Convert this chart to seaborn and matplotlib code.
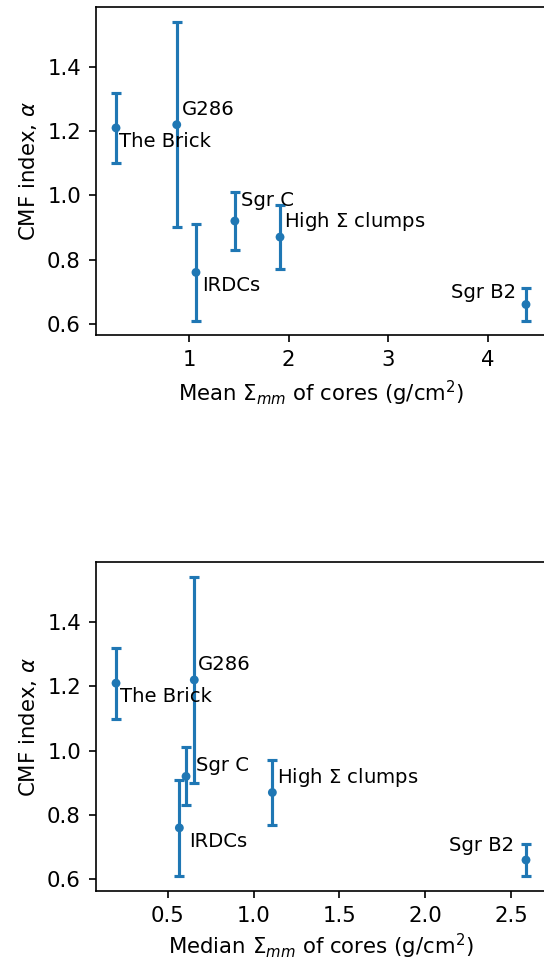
import matplotlib
matplotlib.use("Agg")
import matplotlib.pyplot as plt
import seaborn as sns
import pandas as pd

# ---- data ----
regions = ["The Brick", "G286", "IRDCs", "Sgr C", r"High $\Sigma$ clumps", "Sgr B2"]
mean_sigma = [0.268, 0.877, 1.07, 1.46, 1.913, 4.38]
median_sigma = [0.198, 0.654, 0.567, 0.606, 1.109, 2.587]
alpha = [1.21, 1.22, 0.76, 0.92, 0.87, 0.66]
alpha_err = [0.11, 0.32, 0.15, 0.09, 0.10, 0.05]

df = pd.DataFrame({"region": regions, "mean": mean_sigma, "median": median_sigma,
                   "alpha": alpha, "err": alpha_err})

# label offsets in pixels (dx, dy, ha) for each panel, same order as regions
top_offsets = [(3, -19, "left"), (5, 10, "left"), (6, -19, "left"),
               (6, 15.5, "left"), (4, 10.5, "left"), (-10, 6.5, "right")]
bot_offsets = [(4, -19, "left"), (4, 9.5, "left"), (10, -19.5, "left"),
               (10, 5.5, "left"), (4.5, 9.5, "left"), (-12, 9.3, "right")]

sns.set_theme(style="ticks", rc={
    "axes.edgecolor": "black", "axes.labelcolor": "black",
    "xtick.color": "black", "ytick.color": "black", "text.color": "black",
    "axes.linewidth": 0.8, "xtick.major.width": 0.8, "ytick.major.width": 0.8,
    "xtick.major.size": 3.5, "ytick.major.size": 3.5,
    "font.size": 10, "axes.labelsize": 10.2, "xtick.labelsize": 10.2,
    "ytick.labelsize": 10.2,
})
plt.rcParams["font.family"] = ["DejaVu Sans"]
plt.rcParams["mathtext.fontset"] = "dejavusans"

DPI = 150
fig = plt.figure(figsize=(544 / DPI, 961 / DPI), dpi=DPI)
ax1 = fig.add_axes([0.1756, 0.6509, 0.8290, 0.3418])
ax2 = fig.add_axes([0.1756, 0.0728, 0.8290, 0.3423])

color = "#1f77b4"

def panel(ax, xcol, offsets, xlabel, labelpad):
    ax.errorbar(df[xcol], df["alpha"], yerr=df["err"], fmt="none", ecolor=color,
                elinewidth=1.5, capsize=2.2, capthick=1.5, zorder=2)
    sns.scatterplot(data=df, x=xcol, y="alpha", ax=ax, color=color, s=18,
                    edgecolor="none", linewidth=0, zorder=3, legend=False)
    for (name, xv, yv), (dx, dy, ha) in zip(zip(df["region"], df[xcol], df["alpha"]), offsets):
        ax.annotate(name, (xv, yv), xytext=(dx, dy), textcoords="offset pixels",
                    ha=ha, va="baseline", fontsize=9.4)
    ax.set_xlabel(xlabel, labelpad=labelpad)
    ax.set_ylabel(r"CMF index, $\alpha$")
    ax.set_yticks([0.6, 0.8, 1.0, 1.2, 1.4])
    ax.margins(0.05)

panel(ax1, "mean", top_offsets, r"Mean $\Sigma_{mm}$ of cores (g/cm$^2$)", 4.0)
panel(ax2, "median", bot_offsets, r"Median $\Sigma_{mm}$ of cores (g/cm$^2$)", 3.0)
ax1.set_xticks([1, 2, 3, 4])
ax2.set_xticks([0.5, 1.0, 1.5, 2.0, 2.5])

fig.savefig("out.png", dpi=DPI)
